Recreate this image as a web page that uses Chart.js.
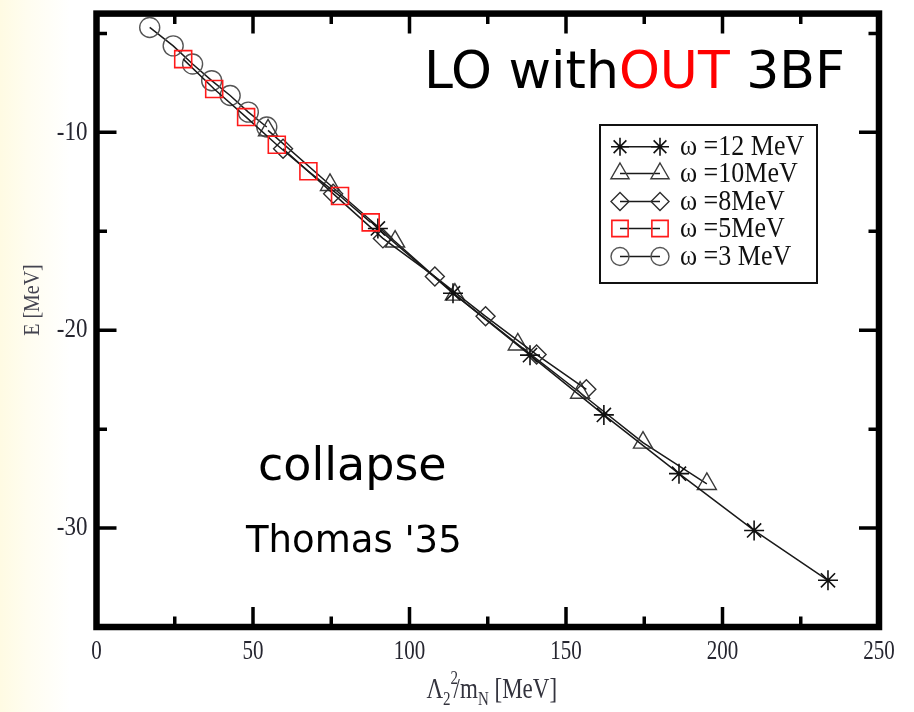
<!DOCTYPE html>
<html>
<head>
<meta charset="utf-8">
<script src="https://cdn.jsdelivr.net/npm/chart.js@4/dist/chart.umd.min.js"></script>
<style>
  html, body { margin: 0; padding: 0; background: #ffffff; }
  #wrap { position: relative; width: 914px; height: 712px; }
  canvas { display: block; }
</style>
</head>
<body>
<div id="wrap"><canvas id="c" width="914" height="712"></canvas></div>
<script>
// Ground-state energy E versus the cutoff parameter Λ2²/mN for several
// oscillator frequencies ω (leading order, no three-body force).

const omega12X = [89.9, 113.9, 138.5, 162.1, 186.1, 210.1, 233.7];
const omega12E = [-14.86, -18.13, -21.26, -24.28, -27.25, -30.12, -32.64];

const omega10X = [54.8, 74.6, 95.4, 114.5, 134.6, 154.5, 174.6, 195.0];
const omega10E = [-9.9, -12.66, -15.52, -18.2, -20.72, -23.16, -25.68, -27.77];

const omega8X = [59.6, 75.6, 91.5, 108.1, 124.3, 140.6, 156.5];
const omega8E = [-10.83, -13.1, -15.36, -17.29, -19.3, -21.23, -22.99];

const omega5X = [27.7, 37.6, 47.8, 57.6, 67.7, 77.8, 87.6];
const omega5E = [-6.3, -7.81, -9.23, -10.63, -11.97, -13.22, -14.55];

const omega3X = [17.0, 24.5, 30.7, 36.8, 42.7, 48.5, 54.4];
const omega3E = [-4.7, -5.63, -6.55, -7.39, -8.14, -8.98, -9.73];

const seriesNames = ['ω =12 MeV', 'ω =10MeV', 'ω =8MeV', 'ω =5MeV', 'ω =3 MeV'];

const xMajorTicks = [0, 50, 100, 150, 200, 250];
const xMinorTicks = [25, 75, 125, 175, 225];
const yMajorTicks = [-10, -20, -30];
const yMinorTicks = [-5, -15, -25];

const xTitle = { base: 'Λ', sub: '2', sup: '2', rest: '/m', sub2: 'N', tail: ' [MeV]' };
const yTitle = 'E [MeV]';
const headline = ['LO with', 'OUT', ' 3BF'];
const note1 = 'collapse';
const note2 = "Thomas '35";

function pts(xs, ys) { return xs.map((x, i) => ({ x: x, y: ys[i] })); }

// marker look for each series
const markerStyles = [
  { pointStyle: 'star', radius: 10, legendRadius: 9, color: '#111111', width: 1.6 },
  { pointStyle: 'triangle', radius: 11, legendRadius: 10.5, color: '#3a3a3a', width: 1.4 },
  { pointStyle: 'rectRot', radius: 9.5, legendRadius: 9, color: '#2e2e2e', width: 1.4 },
  { pointStyle: 'rect', radius: 12, legendRadius: 11.5, color: '#ff1a1a', width: 1.6 },
  { pointStyle: 'circle', radius: 10, legendRadius: 9, color: '#555555', width: 1.4 }
];

const seriesData = [
  pts(omega12X, omega12E),
  pts(omega10X, omega10E),
  pts(omega8X, omega8E),
  pts(omega5X, omega5E),
  pts(omega3X, omega3E)
];
const drawOrder = [1, 3, 2, 0, 4];

const datasets = seriesData.map((d, i) => ({
  label: seriesNames[i],
  data: d,
  showLine: true,
  borderColor: '#1a1a1a',
  borderWidth: 1.5,
  pointStyle: markerStyles[i].pointStyle,
  pointRadius: markerStyles[i].radius,
  pointBorderColor: markerStyles[i].color,
  pointBorderWidth: markerStyles[i].width,
  pointBackgroundColor: 'rgba(0,0,0,0)',
  order: drawOrder[i]
}));

const serif = '"Liberation Serif", "DejaVu Serif", serif';
const labelColor = '#262630';

function stretchedText(ctx, text, x, y, font, sy, align, base) {
  ctx.save();
  ctx.translate(x, y);
  ctx.scale(1, sy);
  ctx.font = font;
  ctx.textAlign = align;
  ctx.textBaseline = base;
  ctx.fillText(text, 0, 0);
  ctx.restore();
}

const decorations = {
  id: 'decorations',
  beforeDraw(chart) {
    const ctx = chart.ctx;
    ctx.save();
    ctx.fillStyle = '#ffffff';
    ctx.fillRect(0, 0, chart.width, chart.height);
    const g = ctx.createLinearGradient(0, 0, 70, 0);
    g.addColorStop(0, '#fffbe3');
    g.addColorStop(0.4, '#fffdf0');
    g.addColorStop(1, '#ffffff');
    ctx.fillStyle = g;
    ctx.fillRect(0, 0, 70, chart.height);
    ctx.restore();
  },
  afterDatasetsDraw(chart) {
    const ctx = chart.ctx;
    const a = chart.chartArea;
    const xs = chart.scales.x, ys = chart.scales.y;
    ctx.save();

    // frame
    ctx.strokeStyle = '#000';
    ctx.lineWidth = 6.5;
    ctx.strokeRect(a.left, a.top, a.right - a.left, a.bottom - a.top);

    // inward ticks on all four sides
    ctx.lineWidth = 3.5;
    ctx.beginPath();
    const tick = (vals, len) => {
      vals.forEach(v => {
        const px = xs.getPixelForValue(v);
        ctx.moveTo(px, a.bottom); ctx.lineTo(px, a.bottom - len);
        ctx.moveTo(px, a.top); ctx.lineTo(px, a.top + len);
      });
    };
    const ytick = (vals, len) => {
      vals.forEach(v => {
        const py = ys.getPixelForValue(v);
        ctx.moveTo(a.left, py); ctx.lineTo(a.left + len, py);
        ctx.moveTo(a.right, py); ctx.lineTo(a.right - len, py);
      });
    };
    tick(xMajorTicks.slice(1, -1), 20);
    tick(xMinorTicks, 10.5);
    ytick(yMajorTicks, 20);
    ytick(yMinorTicks, 10.5);
    ctx.stroke();

    // tick labels
    ctx.fillStyle = labelColor;
    xMajorTicks.forEach(v => {
      stretchedText(ctx, String(v), xs.getPixelForValue(v), a.bottom + 11, '21px ' + serif, 1.3, 'center', 'top');
    });
    yMajorTicks.forEach(v => {
      stretchedText(ctx, String(v), a.left - 9, ys.getPixelForValue(v), '23px ' + serif, 1.2, 'right', 'middle');
    });

    // y title
    ctx.save();
    ctx.translate(33, 300);
    ctx.rotate(-Math.PI / 2);
    ctx.scale(1.05, 1.2);
    ctx.font = '19px ' + serif;
    ctx.fillStyle = '#444450';
    ctx.textAlign = 'center';
    ctx.textBaseline = 'middle';
    ctx.fillText(yTitle, 0, 0);
    ctx.restore();

    // x title with sub/superscripts
    ctx.save();
    ctx.fillStyle = '#33333d';
    ctx.textBaseline = 'alphabetic';
    ctx.textAlign = 'left';
    const big = '23px ' + serif, small = '15px ' + serif;
    const parts = [
      [xTitle.base, big, 0], [xTitle.sub, small, 7], [xTitle.sup, small, -14],
      [xTitle.rest, big, 0], [xTitle.sub2, small, 7], [xTitle.tail, big, 0]
    ];
    let total = 0;
    parts.forEach((p, i) => {
      ctx.font = p[1];
      if (i !== 2) total += ctx.measureText(p[0]).width;
    });
    total += 3;
    let cx = (a.left + a.right) / 2 - total / 2 + 4;
    const by = 698;
    let subW = 0;
    parts.forEach((p, i) => {
      ctx.font = p[1];
      const w = ctx.measureText(p[0]).width;
      ctx.save();
      ctx.translate(cx, by + p[2]);
      ctx.scale(1, 1.25);
      ctx.fillText(p[0], 0, 0);
      ctx.restore();
      if (i === 1) { subW = w; cx += w; }
      else if (i === 2) { cx += Math.max(0, w - subW) + 3; }
      else cx += w;
    });
    ctx.restore();

    // legend
    const lx = 600, ly = 125, lw = 217, lh = 158;
    ctx.fillStyle = '#fff';
    ctx.fillRect(lx, ly, lw, lh);
    ctx.strokeStyle = '#111';
    ctx.lineWidth = 2;
    ctx.strokeRect(lx, ly, lw, lh);
    const rowY = [146.7, 173.5, 201.5, 228.5, 256.5];
    seriesNames.forEach((name, i) => {
      const y = rowY[i];
      const m = markerStyles[i];
      ctx.strokeStyle = '#1a1a1a';
      ctx.lineWidth = 1.5;
      ctx.beginPath();
      ctx.moveTo(620, y); ctx.lineTo(660, y);
      ctx.stroke();
      ctx.strokeStyle = m.color;
      ctx.fillStyle = 'rgba(0,0,0,0)';
      ctx.lineWidth = m.width;
      const opt = { pointStyle: m.pointStyle, radius: m.legendRadius, borderWidth: m.width };
      Chart.helpers.drawPoint(ctx, opt, 620, y);
      Chart.helpers.drawPoint(ctx, opt, 660, y);
      ctx.fillStyle = '#111';
      stretchedText(ctx, name, 680, y + 1, '26px ' + serif, 1.1, 'left', 'middle');
    });

    // annotations
    const hand = '"DejaVu Sans", "Noto Sans", sans-serif';
    ctx.textBaseline = 'alphabetic';
    ctx.textAlign = 'left';
    ctx.font = '52px ' + hand;
    let hx = 424;
    const hy = 88;
    const hc = ['#000', '#ff0000', '#000'];
    headline.forEach((t, i) => {
      ctx.fillStyle = hc[i];
      ctx.fillText(t, hx, hy);
      hx += ctx.measureText(t).width;
    });
    ctx.fillStyle = '#000';
    ctx.font = '46px ' + hand;
    ctx.fillText(note1, 258, 480);
    ctx.font = '37px ' + hand;
    ctx.fillText(note2, 246, 552);

    ctx.restore();
  }
};

new Chart(document.getElementById('c'), {
  type: 'scatter',
  data: { datasets: datasets },
  options: {
    responsive: false,
    animation: false,
    devicePixelRatio: 1,
    layout: { padding: { left: 96.5, right: 35, top: 11, bottom: 85 } },
    plugins: { legend: { display: false }, tooltip: { enabled: false } },
    scales: {
      x: {
        type: 'linear', min: 0, max: 250,
        ticks: { display: false },
        grid: { display: false, drawTicks: false },
        border: { display: false }
      },
      y: {
        type: 'linear', min: -35, max: -4,
        ticks: { display: false },
        grid: { display: false, drawTicks: false },
        border: { display: false }
      }
    }
  },
  plugins: [decorations]
});
</script>
</body>
</html>
